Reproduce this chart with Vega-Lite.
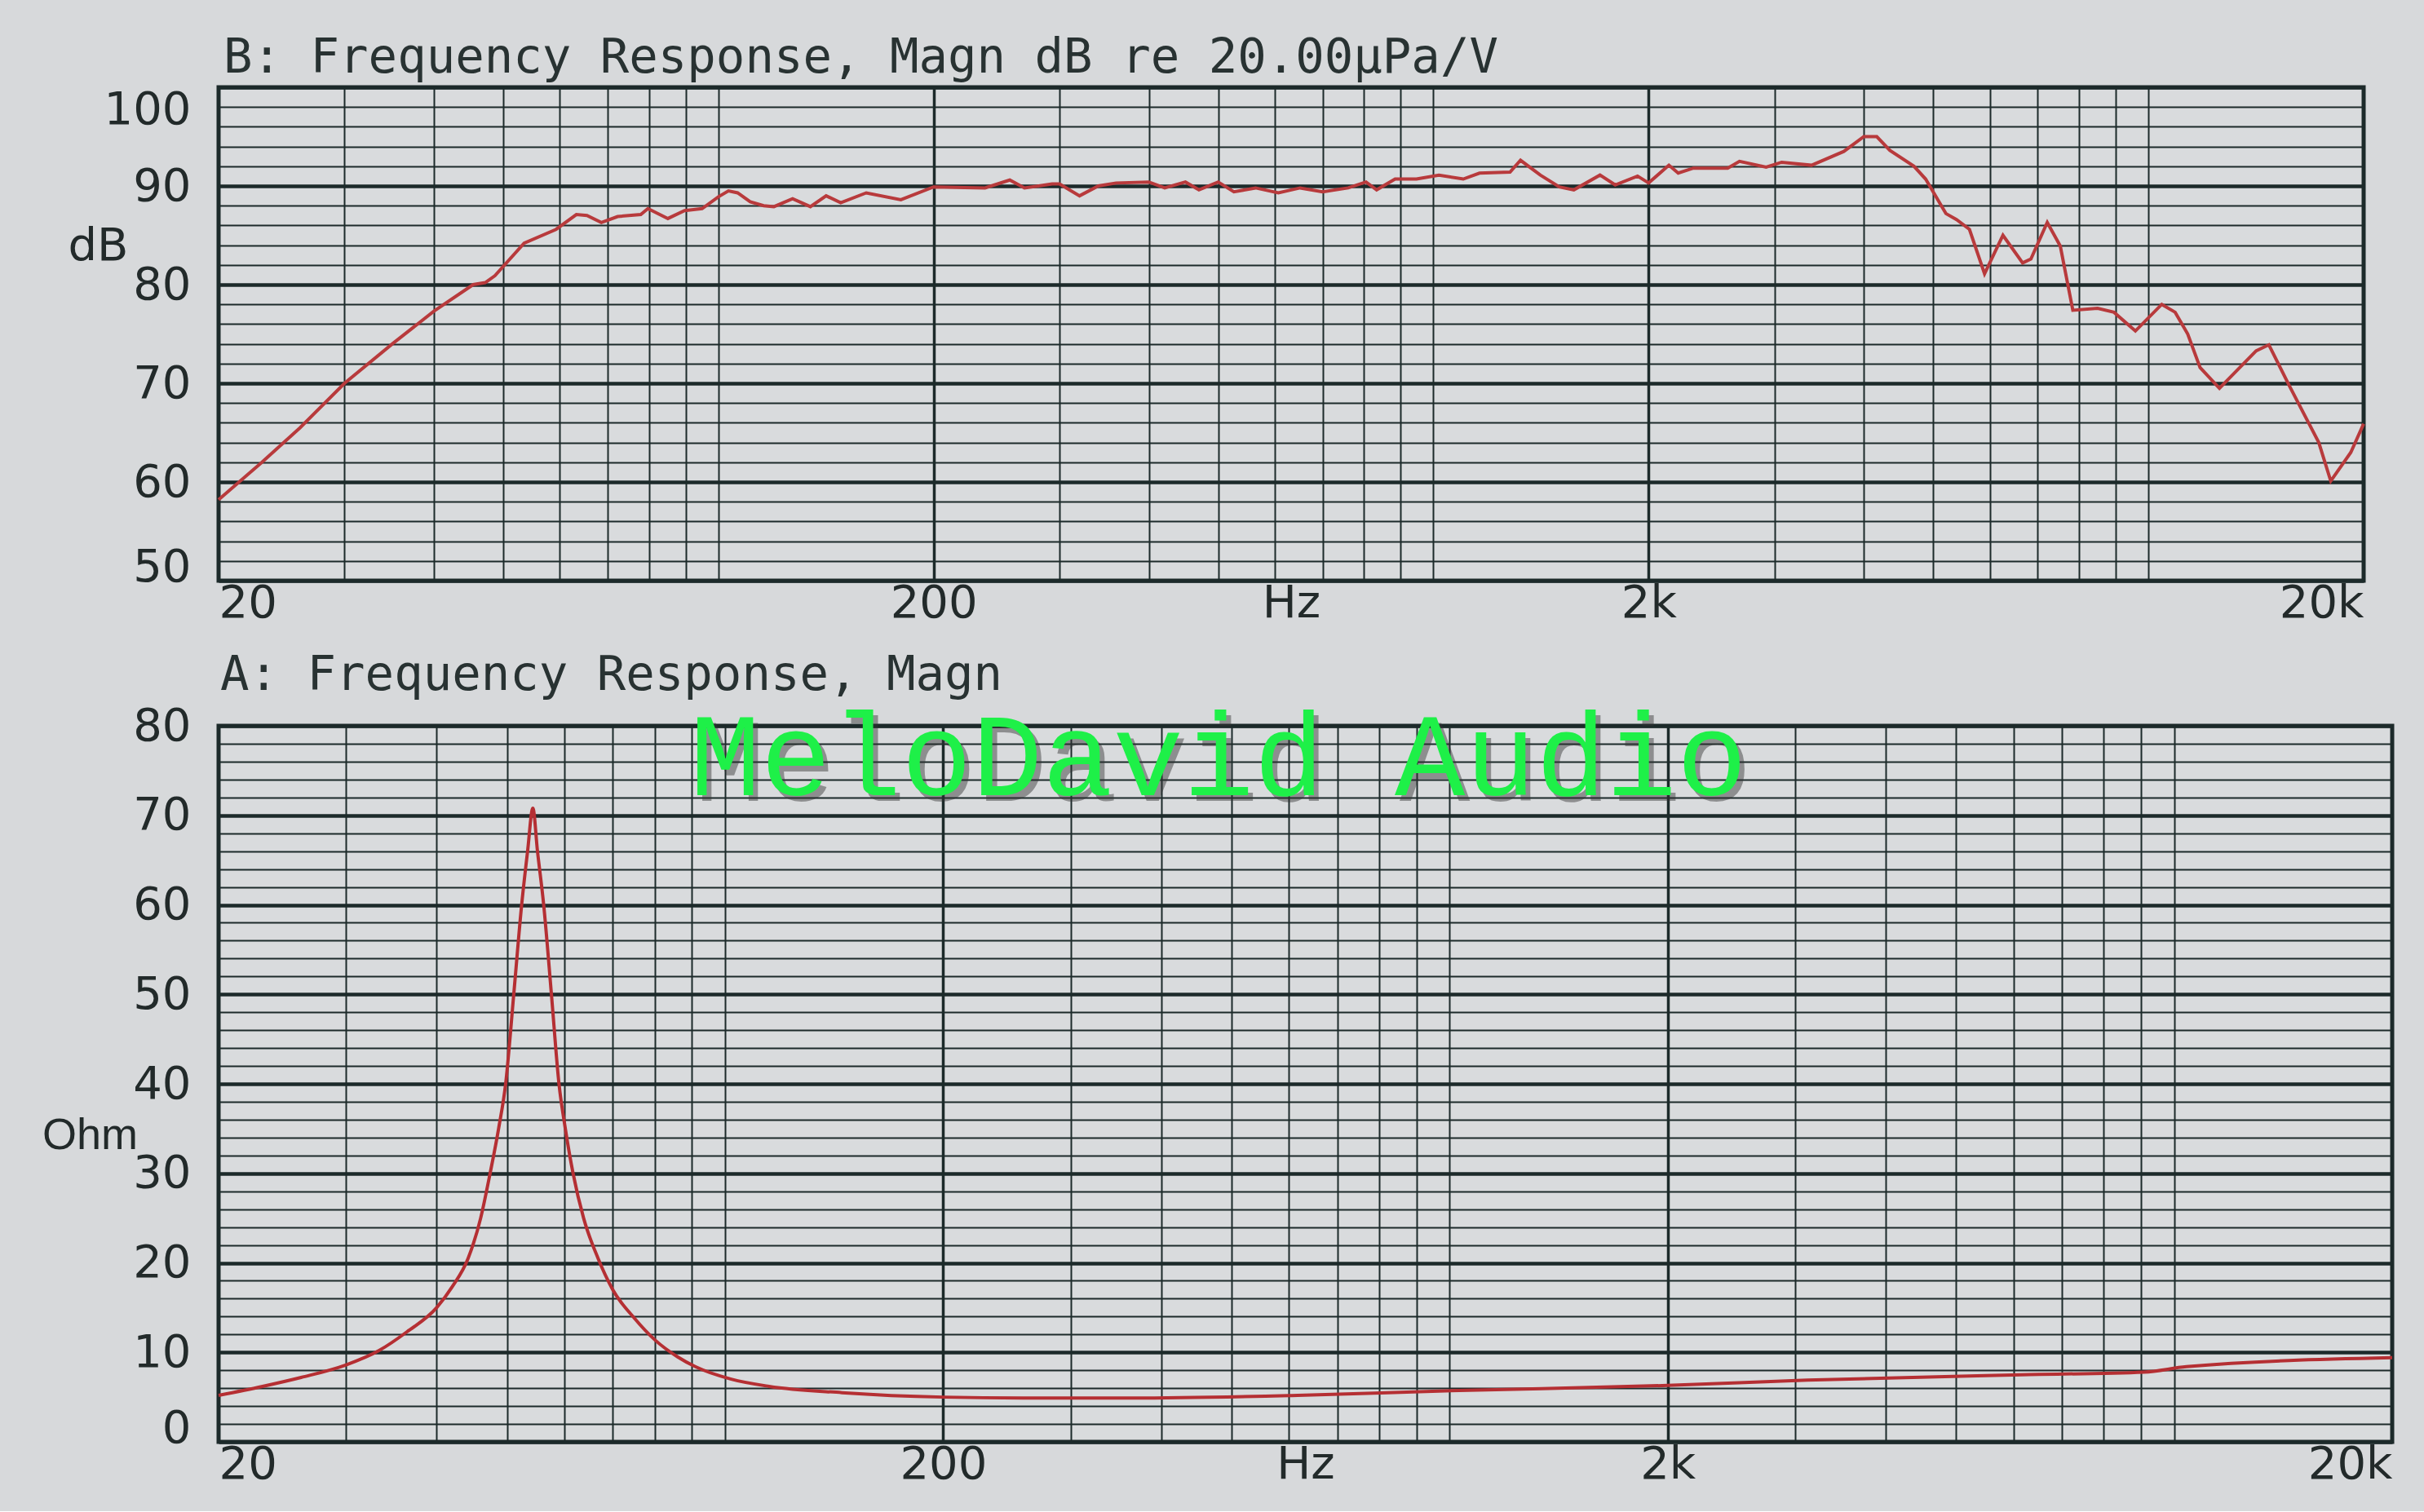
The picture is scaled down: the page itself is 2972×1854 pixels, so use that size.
{
  "$schema": "https://vega.github.io/schema/vega-lite/v6.json",
  "background": "#d7d9db",
  "padding": {"left": 48, "top": 39, "right": 32, "bottom": 27},
  "bounds": "flush",
  "spacing": 178,
  "config": {
    "view": {"stroke": "#1c2a2a", "strokeWidth": 5, "fill": "#d9dbdd"},
    "axis": {
      "labelFont": "DejaVu Sans", "labelFontSize": 56, "labelColor": "#222a2a",
      "titleFont": "DejaVu Sans", "titleFontSize": 56, "titleFontWeight": "normal", "titleColor": "#222a2a",
      "ticks": false, "domain": false, "grid": true, "gridColor": "#1c2a2a", "gridOpacity": 1,
      "labelOverlap": false
    }
  },
  "datasets": {
    "spl": [
      {"f": 20, "v": 58.2}, {"f": 23, "v": 62}, {"f": 26, "v": 65.5}, {"f": 30, "v": 70}, {"f": 35, "v": 74},
      {"f": 40, "v": 77.3}, {"f": 45.4, "v": 80}, {"f": 47.2, "v": 80.2}, {"f": 48.7, "v": 80.9}, {"f": 53.5, "v": 84.2},
      {"f": 59.3, "v": 85.6}, {"f": 63.3, "v": 87.1}, {"f": 65.5, "v": 87}, {"f": 68.6, "v": 86.3}, {"f": 72.3, "v": 86.9},
      {"f": 77.9, "v": 87.1}, {"f": 79.7, "v": 87.7}, {"f": 85, "v": 86.7}, {"f": 89.7, "v": 87.5}, {"f": 94.9, "v": 87.7},
      {"f": 100, "v": 88.9}, {"f": 103.3, "v": 89.5}, {"f": 106.4, "v": 89.3}, {"f": 110.8, "v": 88.4}, {"f": 115.7, "v": 88},
      {"f": 119.6, "v": 87.9}, {"f": 127, "v": 88.7}, {"f": 134.5, "v": 87.9}, {"f": 141.5, "v": 89}, {"f": 148.3, "v": 88.3},
      {"f": 161, "v": 89.3}, {"f": 180, "v": 88.6}, {"f": 200, "v": 89.9}, {"f": 236, "v": 89.8}, {"f": 255.6, "v": 90.6},
      {"f": 268, "v": 89.8}, {"f": 293, "v": 90.2}, {"f": 300, "v": 90.2}, {"f": 320, "v": 89}, {"f": 340, "v": 90},
      {"f": 360, "v": 90.3}, {"f": 400, "v": 90.4}, {"f": 421, "v": 89.8}, {"f": 450, "v": 90.4}, {"f": 470, "v": 89.6},
      {"f": 500, "v": 90.4}, {"f": 526, "v": 89.4}, {"f": 564, "v": 89.8}, {"f": 607, "v": 89.3}, {"f": 651, "v": 89.8},
      {"f": 700, "v": 89.4}, {"f": 760, "v": 89.8}, {"f": 805, "v": 90.4}, {"f": 833, "v": 89.6}, {"f": 884, "v": 90.7},
      {"f": 947, "v": 90.7}, {"f": 1018, "v": 91.1}, {"f": 1101, "v": 90.7}, {"f": 1160, "v": 91.3}, {"f": 1280, "v": 91.4},
      {"f": 1324, "v": 92.6}, {"f": 1411, "v": 91.1}, {"f": 1500, "v": 89.9}, {"f": 1572, "v": 89.6}, {"f": 1710, "v": 91.1},
      {"f": 1796, "v": 90.1}, {"f": 1930, "v": 91}, {"f": 2000, "v": 90.3}, {"f": 2135, "v": 92.1}, {"f": 2200, "v": 91.3},
      {"f": 2310, "v": 91.8}, {"f": 2580, "v": 91.8}, {"f": 2680, "v": 92.5}, {"f": 2920, "v": 91.9}, {"f": 3070, "v": 92.4},
      {"f": 3380, "v": 92.1}, {"f": 3750, "v": 93.5}, {"f": 4000, "v": 95}, {"f": 4170, "v": 95}, {"f": 4350, "v": 93.6},
      {"f": 4700, "v": 92}, {"f": 4880, "v": 90.7}, {"f": 5210, "v": 87.2}, {"f": 5390, "v": 86.6}, {"f": 5620, "v": 85.6},
      {"f": 5900, "v": 81.1}, {"f": 6260, "v": 85}, {"f": 6670, "v": 82.2}, {"f": 6850, "v": 82.6}, {"f": 7220, "v": 86.3},
      {"f": 7530, "v": 83.9}, {"f": 7840, "v": 77.4}, {"f": 8490, "v": 77.6}, {"f": 8950, "v": 77.2}, {"f": 9590, "v": 75.3},
      {"f": 10440, "v": 78}, {"f": 10900, "v": 77.2}, {"f": 11350, "v": 75}, {"f": 11810, "v": 71.6}, {"f": 12570, "v": 69.5},
      {"f": 14150, "v": 73.3}, {"f": 14740, "v": 73.9}, {"f": 15730, "v": 69.8}, {"f": 17310, "v": 64}, {"f": 17990, "v": 60.1},
      {"f": 19190, "v": 63}, {"f": 20000, "v": 65.9}
    ],
    "imp": [
      {"f": 20, "v": 5.2}, {"f": 23, "v": 6.2}, {"f": 26, "v": 7.2}, {"f": 30, "v": 8.6}, {"f": 33.3, "v": 10.2},
      {"f": 36.4, "v": 12.3}, {"f": 40, "v": 15}, {"f": 42, "v": 17.3}, {"f": 44.2, "v": 20.5}, {"f": 46, "v": 25}, {"f": 47.4, "v": 30},
      {"f": 48.7, "v": 35}, {"f": 49.8, "v": 40}, {"f": 51.1, "v": 50}, {"f": 52.4, "v": 60}, {"f": 53.4, "v": 66},
      {"f": 54.3, "v": 70.8}, {"f": 55.1, "v": 66}, {"f": 56.2, "v": 60}, {"f": 57.6, "v": 50}, {"f": 59, "v": 40},
      {"f": 60.2, "v": 35}, {"f": 61.7, "v": 30}, {"f": 63.8, "v": 25}, {"f": 66.8, "v": 20.5}, {"f": 70, "v": 17},
      {"f": 75, "v": 13.8}, {"f": 80, "v": 11.4}, {"f": 86, "v": 9.5}, {"f": 91, "v": 8.4}, {"f": 102, "v": 7.0},
      {"f": 115, "v": 6.2}, {"f": 145, "v": 5.5},
      {"f": 200, "v": 5.0}, {"f": 258, "v": 4.9}, {"f": 365, "v": 4.9}, {"f": 617, "v": 5.2}, {"f": 986, "v": 5.7},
      {"f": 2000, "v": 6.3}, {"f": 3120, "v": 6.9}, {"f": 6150, "v": 7.5}, {"f": 9090, "v": 7.8}, {"f": 10400, "v": 8.4},
      {"f": 20000, "v": 9.4}
    ],
    "wm": [{"f": 480, "v": 76.2, "t": "MeloDavid Audio"}]
  },
  "vconcat": [
    {
      "width": 2630,
      "height": 605,
      "title": {"text": "B: Frequency Response, Magn dB re 20.00μPa/V", "anchor": "start", "frame": "group", "dx": 6, "offset": 2,
                "font": "DejaVu Sans Mono", "fontSize": 59, "fontWeight": "normal", "color": "#283232"},
      "data": {"name": "spl"},
      "mark": {"type": "line", "color": "#b83a3c", "strokeWidth": 4},
      "encoding": {
        "x": {"field": "f", "type": "quantitative",
              "scale": {"type": "log", "domain": [20, 20000], "nice": false},
              "axis": {"values": [20,30,40,50,60,70,80,90,100,200,300,400,500,600,700,800,900,1000,2000,3000,4000,5000,6000,7000,8000,9000,10000,20000],
                       "labelExpr": "datum.value == 20 ? '20' : datum.value == 200 ? '200' : datum.value == 2000 ? '2k' : datum.value == 20000 ? '20k' : ''",
                       "labelFlush": true, "labelPadding": 0, "labelOverlap": false,
                       "gridWidth": {"condition": {"test": "datum.value == 200 || datum.value == 2000", "value": 3.5}, "value": 2},
                       "title": "Hz", "titleY": 0, "titleBaseline": "top"}},
        "y": {"field": "v", "type": "quantitative",
              "scale": {"domain": [50, 100], "nice": false, "zero": false},
              "axis": {"values": [50,52,54,56,58,60,62,64,66,68,70,72,74,76,78,80,82,84,86,88,90,92,94,96,98,100],
                       "labelExpr": "datum.value % 10 == 0 ? datum.label : ''",
                       "labelOverlap": false,
                       "labelBaseline": {"condition": [{"test": "datum.value == 50", "value": "alphabetic"}, {"test": "datum.value == 100", "value": "top"}], "value": "middle"},
                       "labelPadding": 34,
                       "gridWidth": {"condition": {"test": "datum.value % 10 == 0", "value": 4.5}, "value": 2},
                       "title": "dB", "titleAngle": 0, "titleX": -148, "titleY": 194, "titleAlign": "center", "titleBaseline": "middle"}}
      }
    },
    {
      "width": 2665,
      "height": 878,
      "title": {"text": "A: Frequency Response, Magn", "anchor": "start", "frame": "group", "dx": 2, "offset": 2,
                "font": "DejaVu Sans Mono", "fontSize": 59, "fontWeight": "normal", "color": "#283232"},
      "encoding": {
        "x": {"field": "f", "type": "quantitative",
              "scale": {"type": "log", "domain": [20, 20000], "nice": false},
              "axis": {"values": [20,30,40,50,60,70,80,90,100,200,300,400,500,600,700,800,900,1000,2000,3000,4000,5000,6000,7000,8000,9000,10000,20000],
                       "labelExpr": "datum.value == 20 ? '20' : datum.value == 200 ? '200' : datum.value == 2000 ? '2k' : datum.value == 20000 ? '20k' : ''",
                       "labelFlush": true, "labelPadding": 0, "labelOverlap": false,
                       "gridWidth": {"condition": {"test": "datum.value == 200 || datum.value == 2000", "value": 3.5}, "value": 2},
                       "title": "Hz", "titleY": 0, "titleBaseline": "top"}},
        "y": {"field": "v", "type": "quantitative",
              "scale": {"domain": [0, 80], "nice": false},
              "axis": {"values": [0,2,4,6,8,10,12,14,16,18,20,22,24,26,28,30,32,34,36,38,40,42,44,46,48,50,52,54,56,58,60,62,64,66,68,70,72,74,76,78,80],
                       "labelExpr": "datum.value % 10 == 0 ? datum.label : ''",
                       "labelOverlap": false,
                       "labelBaseline": {"condition": {"test": "datum.value == 0", "value": "alphabetic"}, "value": "middle"},
                       "labelPadding": 34,
                       "gridWidth": {"condition": {"test": "datum.value % 10 == 0", "value": 4.5}, "value": 2},
                       "title": "Ohm", "titleFont": "Liberation Sans", "titleFontSize": 54,
                       "titleAngle": 0, "titleX": -158, "titleY": 502, "titleAlign": "center", "titleBaseline": "middle"}}
      },
      "layer": [
        {
          "data": {"name": "imp"},
          "mark": {"type": "line", "color": "#b52f33", "strokeWidth": 4, "interpolate": "monotone"}
        },
        {
          "data": {"name": "wm"},
          "mark": {"type": "text", "font": "Liberation Mono", "fontSize": 144, "color": "#333333", "opacity": 0.45, "dx": 6, "dy": 7, "baseline": "middle", "align": "center"},
          "encoding": {"text": {"field": "t"}}
        },
        {
          "data": {"name": "wm"},
          "mark": {"type": "text", "font": "Liberation Mono", "fontSize": 144, "color": "#1ef048", "baseline": "middle", "align": "center"},
          "encoding": {"text": {"field": "t"}}
        }
      ]
    }
  ]
}
